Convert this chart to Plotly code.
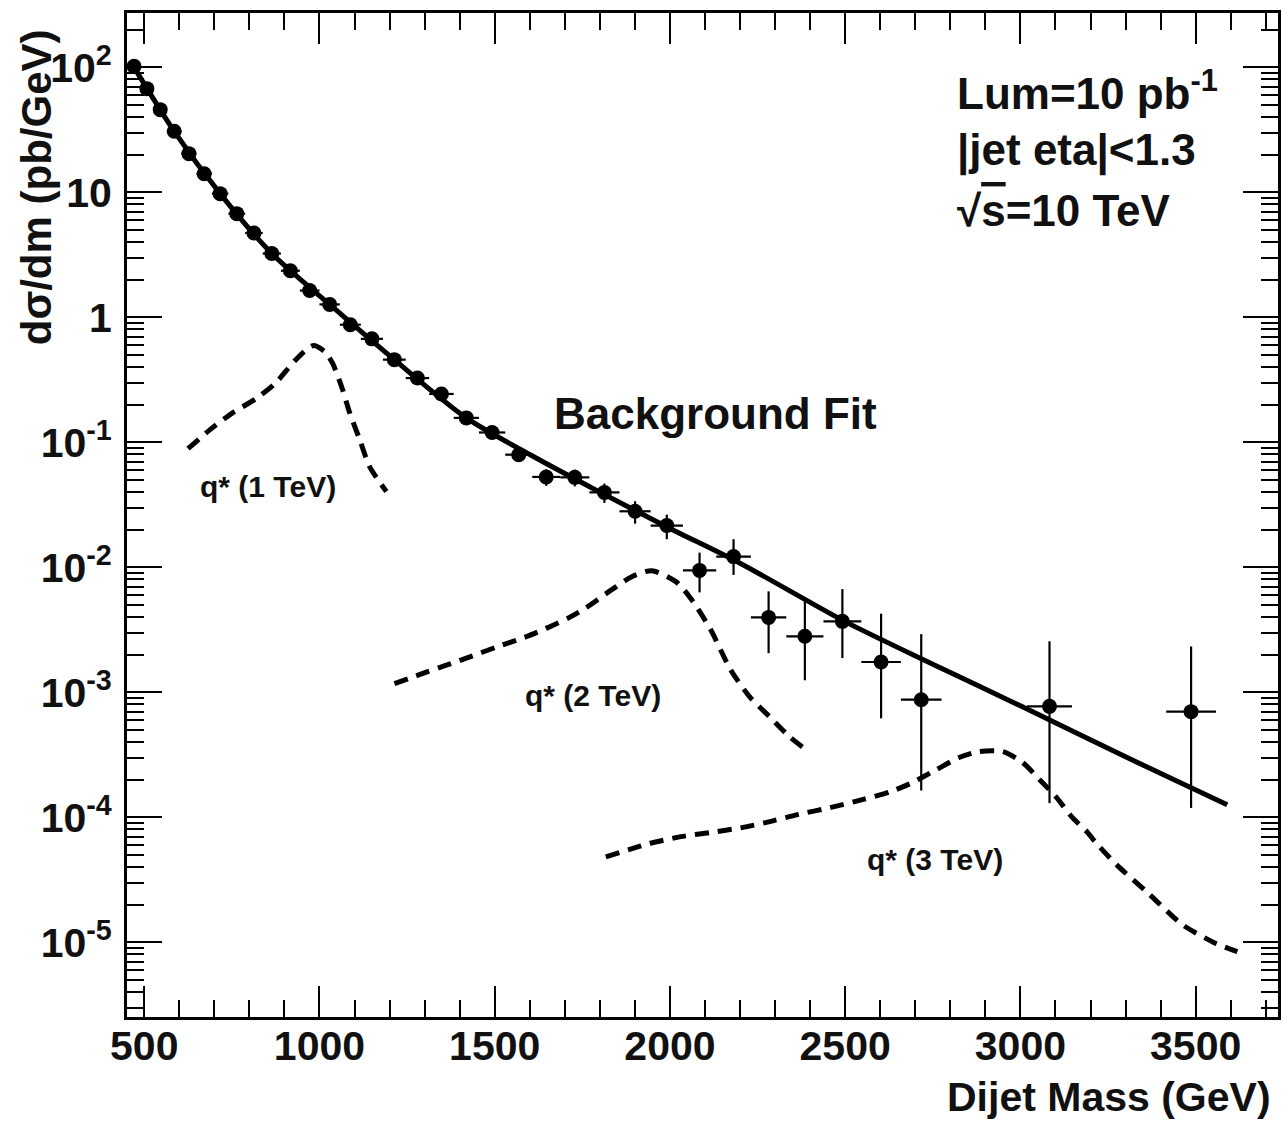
import plotly.graph_objects as go

# ---------------- data ----------------
# dijet mass bins (GeV) of the measured points
bin_lo = [453, 489, 526, 565, 606, 649, 693, 740, 788, 838, 890, 944, 1000, 1058, 1118, 1181,
          1246, 1313, 1383, 1455, 1530, 1607, 1687, 1770, 1856, 1945, 2037, 2132, 2231, 2332,
          2438, 2546, 2659, 3019, 3416]
bin_hi = [489, 526, 565, 606, 649, 693, 740, 788, 838, 890, 944, 1000, 1058, 1118, 1181, 1246,
          1313, 1383, 1455, 1530, 1607, 1687, 1770, 1856, 1945, 2037, 2132, 2231, 2332, 2438,
          2546, 2659, 2775, 3147, 3558]
# dsigma/dm (pb/GeV)
xsec = [101.9, 67.6, 45.9, 30.8, 20.4, 14.1, 9.77, 6.76, 4.73, 3.24, 2.36, 1.64, 1.27, 0.874,
        0.673, 0.459, 0.327, 0.244, 0.157, 0.120, 0.0797, 0.0529, 0.0525, 0.0398, 0.0281,
        0.0216, 0.00946, 0.0122, 0.00398, 0.00281, 0.00370, 0.00175, 0.000874, 0.000773,
        0.000701]
err_up = [0.6, 0.45, 0.33, 0.26, 0.2, 0.16, 0.13, 0.11, 0.09, 0.08, 0.065, 0.055, 0.047, 0.038,
          0.033, 0.027, 0.022, 0.019, 0.015, 0.013, 0.010, 0.008, 0.008, 0.007, 0.0057, 0.0048,
          0.00366, 0.0046, 0.00245, 0.00276, 0.0030, 0.00251, 0.00205, 0.00179, 0.00163]
err_dn = [0.6, 0.45, 0.33, 0.26, 0.2, 0.16, 0.13, 0.11, 0.09, 0.08, 0.065, 0.055, 0.047, 0.038,
          0.033, 0.027, 0.022, 0.019, 0.015, 0.013, 0.010, 0.008, 0.008, 0.007, 0.0057, 0.0048,
          0.00315, 0.0035, 0.00192, 0.00156, 0.00182, 0.00113, 0.00071, 0.000643, 0.000582]

# background fit curve
fit_m = [471, 585.5, 716.5, 864, 1029, 1213.5, 1419, 1600, 1800, 2000, 2200, 2500, 2750, 3000,
         3300, 3590]
fit_v = [100, 30.8, 9.77, 3.24, 1.27, 0.459, 0.157, 0.080, 0.040, 0.0205, 0.0108, 0.00368,
         0.00168, 0.00078, 0.000305, 0.000126]

# q* signal shapes
q1_m = [625, 688, 753, 819, 876, 930, 981, 1015, 1038, 1066, 1086, 1115, 1143, 1191]
q1_v = [0.0891, 0.1264, 0.173, 0.224, 0.301, 0.451, 0.594, 0.532, 0.426, 0.264, 0.173, 0.105,
        0.064, 0.0404]
q2_m = [1214, 1285, 1362, 1419, 1504, 1590, 1647, 1712, 1761, 1834, 1891, 1948, 2017, 2062,
        2116, 2173, 2227, 2284, 2341, 2384]
q2_v = [1.175e-3, 1.386e-3, 1.65e-3, 1.88e-3, 2.30e-3, 2.79e-3, 3.25e-3, 3.96e-3, 4.76e-3,
        6.63e-3, 8.43e-3, 9.41e-3, 7.69e-3, 5.52e-3, 3.18e-3, 1.52e-3, 9.25e-4, 6.40e-4,
        4.43e-4, 3.55e-4]
q3_m = [1817, 1883, 1940, 2031, 2114, 2205, 2273, 2364, 2457, 2549, 2628, 2685, 2757, 2825,
        2882, 2950, 3007, 3055, 3101, 3146, 3192, 3215, 3277, 3363, 3462, 3553, 3619]
q3_v = [4.84e-5, 5.52e-5, 6.17e-5, 7.01e-5, 7.55e-5, 8.28e-5, 9.08e-5, 1.052e-4, 1.197e-4,
        1.387e-4, 1.60e-4, 1.86e-4, 2.38e-4, 3.01e-4, 3.36e-4, 3.36e-4, 2.74e-4, 2.00e-4,
        1.466e-4, 1.014e-4, 7.55e-5, 6.28e-5, 4.11e-5, 2.50e-5, 1.387e-5, 9.95e-6, 8.43e-6]

y_tickvals = [1e-5, 1e-4, 1e-3, 1e-2, 1e-1, 1, 10, 100]
y_ticktext = ["10<sup>-5</sup>", "10<sup>-4</sup>", "10<sup>-3</sup>", "10<sup>-2</sup>",
              "10<sup>-1</sup>", "1", "10", "10<sup>2</sup>"]

# ---------------- figure ----------------
W, H = 1283, 1121
L, R, T, B = 127, 1281, 13, 1017
FONT = "Liberation Sans, Arial, Helvetica, sans-serif"


def px(x):
    return (x - L) / (R - L)


def py(y):
    return (B - y) / (B - T)


mass = [(a + b) / 2 for a, b in zip(bin_lo, bin_hi)]
half = [(b - a) / 2 for a, b in zip(bin_lo, bin_hi)]

fig = go.Figure()
dash = dict(color="black", width=5, dash="14px,9px")
for m, v in [(q1_m, q1_v), (q2_m, q2_v), (q3_m, q3_v)]:
    fig.add_trace(go.Scatter(x=m, y=v, mode="lines", line=dict(dash, shape="spline", smoothing=0.7),
                             showlegend=False, hoverinfo="skip"))

fig.add_trace(go.Scatter(x=fit_m, y=fit_v, mode="lines",
                         line=dict(color="black", width=5, shape="spline", smoothing=0.8),
                         showlegend=False))

fig.add_trace(go.Scatter(
    x=mass, y=xsec, mode="markers",
    marker=dict(color="black", size=15, symbol="circle"),
    error_x=dict(type="data", array=half, color="black", thickness=2.2, width=0),
    error_y=dict(type="data", array=err_up, arrayminus=err_dn, color="black",
                 thickness=2.2, width=0),
    showlegend=False))

tick_font = dict(family=FONT, size=41, color="#111111", weight="bold")
fig.update_xaxes(range=[450.8, 3735], showline=True, linewidth=3, linecolor="black",
                 mirror="ticks", ticks="inside", ticklen=31, tickwidth=2, tickcolor="black",
                 tick0=0, dtick=500, showgrid=False, zeroline=False, tickfont=tick_font,
                 ticklabelstandoff=-9,
                 minor=dict(ticks="inside", ticklen=17, tickwidth=2, tickcolor="black",
                            dtick=100, showgrid=False))
fig.update_yaxes(type="log", range=[-5.597, 2.435], showline=True, linewidth=3,
                 linecolor="black", mirror="ticks", ticks="inside", ticklen=35, tickwidth=2,
                 tickcolor="black", tickmode="array", tickvals=y_tickvals, ticktext=y_ticktext,
                 showgrid=False, zeroline=False, tickfont=tick_font, ticklabelstandoff=4,
                 minor=dict(ticks="inside", ticklen=17, tickwidth=2, tickcolor="black",
                            dtick="D1", showgrid=False))

ann_font = dict(family=FONT, size=44, color="#111111", weight="bold")
small_font = dict(family=FONT, size=30, color="#111111", weight="bold")
annotations = [
    dict(text="Lum=10 pb<sup>-1</sup>", x=px(957), y=py(90), xanchor="left", yanchor="middle",
         font=ann_font),
    dict(text="|jet eta|<1.3", x=px(957), y=py(150), xanchor="left", yanchor="middle",
         font=ann_font),
    dict(text="\u221a<span style='text-decoration:overline'>s</span>=10 TeV", x=px(957),
         y=py(210), xanchor="left", yanchor="middle", font=ann_font),
    dict(text="Background Fit", x=px(717), y=py(413), xanchor="center", yanchor="middle",
         font=ann_font),
    dict(text="q* (1 TeV)", x=px(268), y=py(486), xanchor="center", yanchor="middle",
         font=small_font),
    dict(text="q* (2 TeV)", x=px(594), y=py(695), xanchor="center", yanchor="middle",
         font=small_font),
    dict(text="q* (3 TeV)", x=px(937), y=py(859), xanchor="center", yanchor="middle",
         font=small_font),
    dict(text="Dijet Mass (GeV)", x=px(1276), y=py(1097), xanchor="right", yanchor="middle",
         font=dict(family=FONT, size=41, color="#111111", weight="bold")),
    dict(text="d\u03c3/dm (pb/GeV)", x=px(37), y=py(187), xanchor="center", yanchor="middle",
         textangle=-90, font=dict(family=FONT, size=42, color="#111111", weight="bold")),
]
for a in annotations:
    a.update(xref="paper", yref="paper", showarrow=False)

fig.update_layout(width=W, height=H, margin=dict(l=L, r=W - R, t=T, b=H - B),
                  plot_bgcolor="white", paper_bgcolor="white", annotations=annotations,
                  showlegend=False)

fig.write_html("out.html", config={"displayModeBar": False},
               post_script="document.body.style.margin='0';")
